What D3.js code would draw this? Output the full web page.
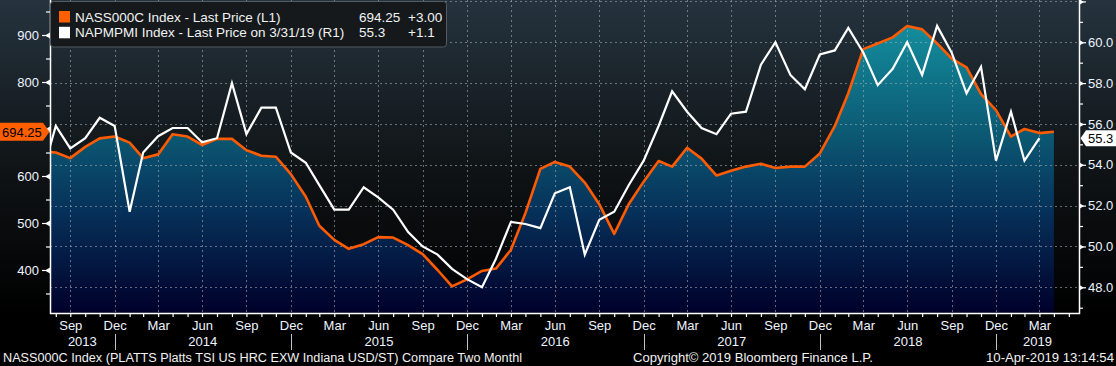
<!DOCTYPE html>
<html>
<head>
<meta charset="utf-8">
<script src="https://cdn.jsdelivr.net/npm/d3@7"></script>
<style>
  body { margin: 0; background: #000; }
  svg text { font-family: "Liberation Sans", Arial, sans-serif; }
</style>
</head>
<body>
<script>
// Step 1: data (one value per month end)
//= ================================
// NASS000C, Jul 2013 .. Apr 2019
var steelPrice = [
  652, 650, 638, 662, 680, 684,
  671, 638, 646, 689, 684, 666, 679, 679, 655, 643, 641, 604,
  556, 494, 464, 445, 455, 470, 469, 453, 434, 400, 365, 380,
  398, 403, 443, 521, 615, 630, 620, 586, 540, 477, 540, 588,
  632, 620, 660, 637, 601, 611, 620, 626, 617, 620, 620, 648,
  706, 776, 870, 882, 895, 919, 912, 882, 850, 831, 774, 740,
  684, 700, 691.25, 694.25
];

// NAPMPMI, Jul 2013 .. Mar 2019
var pmi = [
  53.3, 55.9, 54.8, 55.3, 56.3, 55.9,
  51.7, 54.6, 55.4, 55.8, 55.8, 55.1, 55.3, 58.0, 55.5, 56.8, 56.8, 54.6,
  54.1, 53.0, 51.8, 51.8, 52.9, 52.4, 51.8, 50.7, 50.0, 49.6, 48.9, 48.4,
  48.0, 49.4, 51.2, 51.1, 50.9, 52.6, 52.9, 49.6, 51.3, 51.7, 53.0, 54.2,
  55.9, 57.6, 56.6, 55.8, 55.5, 56.5, 56.6, 58.9, 60.0, 58.4, 57.7, 59.4,
  59.6, 60.7, 59.5, 57.9, 58.7, 60.0, 58.4, 60.8, 59.5, 57.5, 58.8, 54.2,
  56.6, 54.2, 55.3
];

var leftTicks = [400, 500, 600, 700, 800, 900];
var leftMinor = [350, 450, 550, 650, 750, 850, 950];
var rightTicks = [48, 50, 52, 54, 56, 58, 60, 62];
var rightMinor = [47, 49, 51, 53, 55, 57, 59, 61];
var monthNames = ["Jan", "Feb", "Mar", "Apr", "May", "Jun", "Jul", "Aug", "Sep", "Oct", "Nov", "Dec"];
var years = [2013, 2014, 2015, 2016, 2017, 2018, 2019];

var legendRows = [
  {name: "NASS000C Index - Last Price (L1)", value: "694.25", change: "+3.00", color: "#ff5f00"},
  {name: "NAPMPMI Index - Last Price on 3/31/19 (R1)", value: "55.3", change: "+1.1", color: "#ffffff"}
];
var footLeft = "NASS000C Index (PLATTS Platts TSI US HRC EXW Indiana USD/ST) Compare Two  Monthl";
var footMid = "Copyright\u00a9 2019 Bloomberg Finance L.P.";
var footRight = "10-Apr-2019 13:14:54";

// month end for index i counted from Jul 2013
function monthEnd(i) { return new Date(2013, 6 + i + 1, 0); }

var steelData = steelPrice.map(function(v, i) { return {date: monthEnd(i), v: v}; });
var pmiData = pmi.map(function(v, i) { return {date: monthEnd(i), v: v}; });

// Step 2: chart frame
//= ================================
var svgWidth = 1116;
var svgHeight = 366;
var plot = {left: 50, right: 1079, top: 0, bottom: 313};

var svg = d3.select("body").append("svg")
  .attr("width", svgWidth)
  .attr("height", svgHeight);

var defs = svg.append("defs");

var bgGrad = defs.append("linearGradient").attr("id", "bg")
  .attr("x1", 0).attr("y1", 0).attr("x2", 0).attr("y2", 1);
bgGrad.append("stop").attr("offset", "0%").attr("stop-color", "#25333e");
bgGrad.append("stop").attr("offset", "55%").attr("stop-color", "#0f1315");
bgGrad.append("stop").attr("offset", "100%").attr("stop-color", "#000000");

var areaGrad = defs.append("linearGradient").attr("id", "areaFill")
  .attr("gradientUnits", "userSpaceOnUse")
  .attr("x1", 0).attr("y1", 20).attr("x2", 0).attr("y2", plot.bottom);
areaGrad.append("stop").attr("offset", "0%").attr("stop-color", "#14909f");
areaGrad.append("stop").attr("offset", "38%").attr("stop-color", "#0c5a74");
areaGrad.append("stop").attr("offset", "65%").attr("stop-color", "#06315a");
areaGrad.append("stop").attr("offset", "100%").attr("stop-color", "#00002a");

defs.append("clipPath").attr("id", "plotClip")
  .append("rect")
  .attr("x", plot.left).attr("y", plot.top)
  .attr("width", plot.right - plot.left).attr("height", plot.bottom - plot.top);

svg.append("rect")
  .attr("width", svgWidth).attr("height", plot.bottom + 1)
  .attr("fill", "url(#bg)");

// Step 3: scales
//= ================================
var x = d3.scaleTime()
  .domain([new Date(2013, 7, 19), new Date(2019, 5, 21)])
  .range([plot.left, plot.right]);

var yLeft = d3.scaleLinear()
  .domain([308.5, 974.5])
  .range([plot.bottom, plot.top]);

var yRight = d3.scaleLinear()
  .domain([46.74, 62.07])
  .range([plot.bottom, plot.top]);

var tickMonths = d3.range(1, 71).map(monthEnd).filter(function(d) { return x(d) <= plot.right; });
var quarterMonths = tickMonths.filter(function(d) { return d.getMonth() % 3 === 2; });

var lastSteel = steelPrice[steelPrice.length - 1];
var lastPmi = pmi[pmi.length - 1];

// Step 4: area, grid, lines
//= ================================
var chart = svg.append("g").attr("clip-path", "url(#plotClip)");

var area = d3.area()
  .x(function(d) { return x(d.date); })
  .y0(plot.bottom)
  .y1(function(d) { return yLeft(d.v); });

chart.append("path")
  .datum(steelData)
  .attr("d", area)
  .attr("fill", "url(#areaFill)");

var grid = chart.append("g")
  .attr("stroke", "#a3abb3")
  .attr("stroke-opacity", 0.6)
  .attr("stroke-dasharray", "2,3")
  .attr("shape-rendering", "crispEdges");

grid.selectAll(".hgrid").data(rightTicks).enter().append("line")
  .attr("x1", plot.left).attr("x2", plot.right)
  .attr("y1", function(d) { return Math.round(yRight(d)) + 0.5; })
  .attr("y2", function(d) { return Math.round(yRight(d)) + 0.5; });

grid.selectAll(".vgrid").data(quarterMonths).enter().append("line")
  .attr("y1", plot.top).attr("y2", plot.bottom)
  .attr("x1", function(d) { return Math.round(x(d)) + 0.5; })
  .attr("x2", function(d) { return Math.round(x(d)) + 0.5; });

var steelLine = d3.line()
  .x(function(d) { return x(d.date); })
  .y(function(d) { return yLeft(d.v); });

var pmiLine = d3.line()
  .x(function(d) { return x(d.date); })
  .y(function(d) { return yRight(d.v); });

chart.append("path")
  .datum(steelData)
  .attr("d", steelLine)
  .attr("fill", "none")
  .attr("stroke", "#ff5b00")
  .attr("stroke-width", 2.6)
  .attr("stroke-linejoin", "round");

chart.append("path")
  .datum(pmiData)
  .attr("d", pmiLine)
  .attr("fill", "none")
  .attr("stroke", "#ffffff")
  .attr("stroke-width", 2.2)
  .attr("stroke-linejoin", "miter");

// Step 5: axes
//= ================================
var axisColor = "#ffffff";
var labelColor = "#eef4ff";

// frame lines
svg.append("path")
  .attr("d", "M" + (plot.left + 0.5) + ",0V" + (plot.bottom + 0.5) + "H" + (plot.right + 0.5) + "V0")
  .attr("fill", "none")
  .attr("stroke", axisColor)
  .attr("stroke-width", 1.5);

// labels hidden under the last-value badge are left blank
var leftAxis = svg.append("g")
  .attr("transform", "translate(" + plot.left + ",0)")
  .call(d3.axisLeft(yLeft).tickValues(leftTicks).tickSize(8).tickPadding(3)
    .tickFormat(function(d) { return Math.abs(yLeft(d) - yLeft(lastSteel)) < 14 ? "" : d; }));

var leftMinorAxis = svg.append("g")
  .attr("transform", "translate(" + plot.left + ",0)")
  .call(d3.axisLeft(yLeft).tickValues(leftMinor).tickSize(4).tickFormat(""));

var rightAxis = svg.append("g")
  .attr("transform", "translate(" + plot.right + ",0)")
  .call(d3.axisRight(yRight).tickValues(rightTicks).tickSize(7).tickPadding(2)
    .tickFormat(function(d) { return yRight(d) < 8 ? "" : d3.format(".1f")(d); }));

var rightMinorAxis = svg.append("g")
  .attr("transform", "translate(" + plot.right + ",0)")
  .call(d3.axisRight(yRight).tickValues(rightMinor).tickSize(4).tickFormat(""));

var bottomAxis = svg.append("g")
  .attr("transform", "translate(0," + plot.bottom + ")")
  .call(d3.axisBottom(x).tickValues(tickMonths).tickSize(4).tickPadding(4)
    .tickFormat(function(d) { return d.getMonth() % 3 === 2 ? monthNames[d.getMonth()] : ""; }));

[leftAxis, leftMinorAxis, rightAxis, rightMinorAxis, bottomAxis].forEach(function(g) {
  g.select(".domain").remove();
  g.selectAll(".tick line").attr("stroke", axisColor).attr("stroke-width", 1.2);
  g.selectAll(".tick text")
    .attr("fill", labelColor)
    .style("font-size", "13px");
});

// pennant marks on major ticks
leftAxis.selectAll(".tick").append("path")
  .attr("d", "M0,-3L-5,0L0,3Z").attr("fill", axisColor);
rightAxis.selectAll(".tick").append("path")
  .attr("d", "M0,-3L5,0L0,3Z").attr("fill", axisColor);

// year labels and dividers
var yearGroup = svg.append("g");
years.forEach(function(yr) {
  var start = Math.max(plot.left, x(new Date(yr - 1, 11, 31)));
  var end = Math.min(plot.right, x(new Date(yr, 11, 31)));
  yearGroup.append("text")
    .attr("x", (start + end) / 2)
    .attr("y", 346)
    .attr("text-anchor", "middle")
    .attr("fill", labelColor)
    .style("font-size", "13px")
    .text(yr);
  if (x(new Date(yr, 11, 31)) < plot.right) {
    yearGroup.append("line")
      .attr("x1", Math.round(end) + 0.5).attr("x2", Math.round(end) + 0.5)
      .attr("y1", 334).attr("y2", 350)
      .attr("stroke", "#bfc4c8");
  }
});

// Step 6: last value badges
//= ================================
var ly = yLeft(lastSteel);
svg.append("path")
  .attr("d", "M0," + (ly - 9) + "H43L49.5," + ly + "L43," + (ly + 9) + "H0Z")
  .attr("fill", "#ff5f00");
svg.append("text")
  .attr("x", 2).attr("y", ly + 5)
  .attr("fill", "#000")
  .style("font-size", "13px")
  .text(legendRows[0].value);

var ry = yRight(lastPmi);
svg.append("path")
  .attr("d", "M1080.5," + ry + "L1086," + (ry - 8) + "H1116V" + (ry + 8) + "H1086Z")
  .attr("fill", "#ffffff");
svg.append("text")
  .attr("x", 1088).attr("y", ry + 5)
  .attr("fill", "#000")
  .style("font-size", "13px")
  .text(legendRows[1].value);

// Step 7: legend
//= ================================
var legend = svg.append("g");
legend.append("rect")
  .attr("x", 50.5).attr("y", 1.5)
  .attr("width", 396).attr("height", 45.5)
  .attr("rx", 3)
  .attr("fill", "#15191c")
  .attr("stroke", "#555b61");

legendRows.forEach(function(row, i) {
  var base = 21.5 + i * 15.8;
  legend.append("rect")
    .attr("x", 59).attr("y", base - 10.5)
    .attr("width", 11).attr("height", 11.5)
    .attr("fill", row.color);
  legend.append("text")
    .attr("x", 75).attr("y", base)
    .attr("fill", "#f2f2f2")
    .style("font-size", "13.5px")
    .text(row.name);
  legend.append("text")
    .attr("x", 359).attr("y", base)
    .attr("fill", "#f2f2f2")
    .style("font-size", "13.5px")
    .text(row.value);
  legend.append("text")
    .attr("x", 408).attr("y", base)
    .attr("fill", "#f2f2f2")
    .style("font-size", "13.5px")
    .text(row.change);
});

// Step 8: footer
//= ================================
var foot = svg.append("g")
  .attr("fill", "#f2f2f2")
  .style("font-size", "12.5px");
foot.append("text").attr("x", 3).attr("y", 362)
  .attr("textLength", 519).attr("lengthAdjust", "spacingAndGlyphs")
  .text(footLeft);
foot.append("text").attr("x", 633).attr("y", 362)
  .attr("textLength", 240).attr("lengthAdjust", "spacingAndGlyphs")
  .text(footMid);
foot.append("text").attr("x", 986).attr("y", 362)
  .attr("textLength", 128).attr("lengthAdjust", "spacingAndGlyphs")
  .text(footRight);
</script>
</body>
</html>
